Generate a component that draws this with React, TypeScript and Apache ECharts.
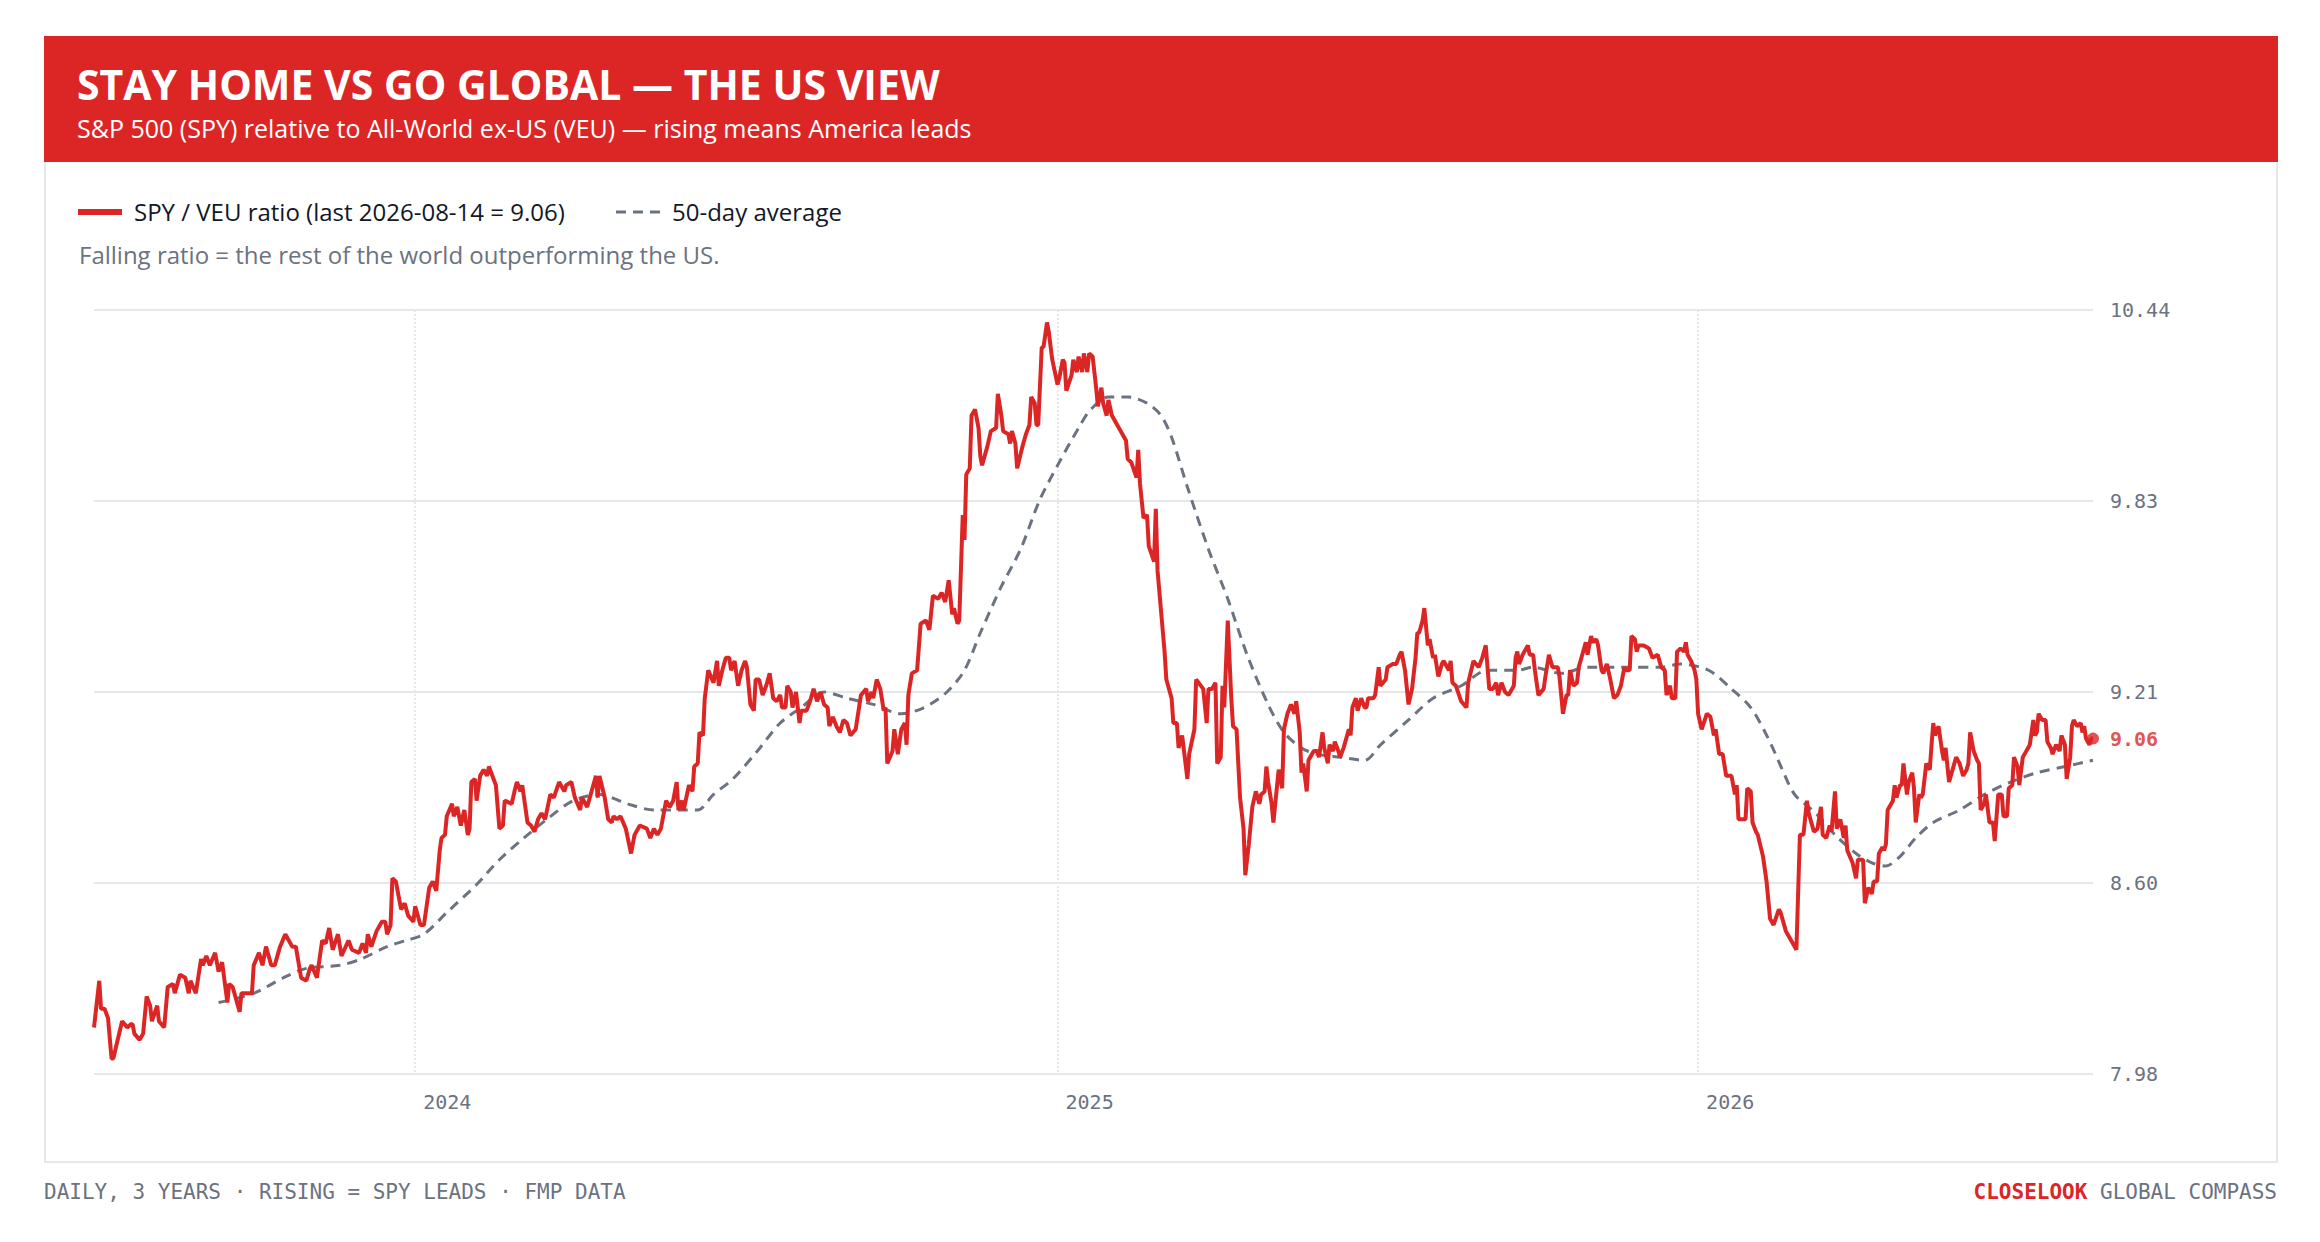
import React, { useEffect, useRef } from "react";
import * as echarts from "echarts";

// ---------- data ----------
const START_DATE = "2023-07-02"; // day 0 of the offsets below
const LAST_DATE = "2026-08-14";
const LAST_VALUE = 9.06;

const yTickValues = [7.98, 8.595, 9.21, 9.825, 10.44];
const yTickLabels = ["7.98", "8.60", "9.21", "9.83", "10.44"];
const yearTickDates = ["2024-01-01", "2025-01-01", "2026-01-01"];
const yearTickLabels = ["2024", "2025", "2026"];

// [days after START_DATE, SPY/VEU ratio]
const ratioPoints: [number, number][] = [
  [0,8.13],[3,8.28],[4,8.19],[6,8.19],[8,8.16],[10,8.03],[11,8.03],[16,8.15],[19,8.13],[21,8.14],[22,8.14],[23,8.11],[26,8.09],[28,8.11],[30,8.23],[32,8.20],[33,8.15],[36,8.20],[37,8.15],[40,8.13],
  [42,8.26],[45,8.27],[46,8.24],[49,8.30],[52,8.29],[54,8.24],[55,8.28],[58,8.24],[61,8.35],[62,8.33],[64,8.36],[66,8.33],[69,8.37],[71,8.31],[73,8.34],[76,8.21],[77,8.27],[79,8.26],[83,8.18],[84,8.24],
  [87,8.24],[90,8.24],[91,8.33],[94,8.37],[96,8.33],[98,8.39],[101,8.33],[103,8.33],[106,8.39],[109,8.43],[113,8.39],[115,8.39],[118,8.29],[121,8.28],[123,8.32],[124,8.33],[127,8.29],[130,8.41],[132,8.40],[134,8.45],
  [136,8.38],[139,8.43],[141,8.36],[145,8.41],[147,8.38],[151,8.37],[153,8.40],[155,8.37],[156,8.43],[158,8.39],[161,8.44],[164,8.47],[166,8.47],[167,8.43],[169,8.46],[170,8.61],[172,8.60],[173,8.57],[175,8.51],[177,8.53],
  [179,8.49],[182,8.47],[183,8.52],[186,8.46],[188,8.46],[191,8.58],[193,8.60],[195,8.57],[197,8.70],[198,8.74],[200,8.75],[201,8.81],[204,8.85],[205,8.81],[207,8.84],[209,8.78],[211,8.83],[213,8.75],[214,8.77],[215,8.92],
  [217,8.93],[218,8.86],[220,8.94],[222,8.96],[224,8.94],[225,8.97],[229,8.91],[231,8.77],[233,8.78],[234,8.86],[238,8.85],[240,8.90],[241,8.92],[243,8.89],[244,8.91],[247,8.79],[249,8.78],[251,8.76],[253,8.80],[255,8.82],
  [257,8.80],[260,8.88],[262,8.87],[265,8.92],[268,8.89],[269,8.91],[272,8.92],[274,8.87],[277,8.83],[278,8.87],[281,8.84],[283,8.88],[286,8.94],[287,8.87],[288,8.94],[291,8.87],[293,8.80],[295,8.79],[296,8.81],[298,8.80],
  [300,8.81],[303,8.77],[306,8.69],[308,8.75],[311,8.78],[315,8.77],[317,8.74],[319,8.77],[321,8.75],[323,8.77],[326,8.86],[328,8.84],[330,8.86],[332,8.92],[333,8.83],[335,8.86],[336,8.83],[339,8.91],[341,8.89],[342,8.97],
  [344,8.98],[345,9.08],[347,9.07],[348,9.19],[350,9.28],[353,9.24],[355,9.31],[356,9.23],[358,9.28],[360,9.32],[362,9.32],[363,9.28],[365,9.31],[367,9.23],[369,9.28],[371,9.31],[372,9.29],[374,9.17],[376,9.15],[377,9.25],
  [379,9.25],[381,9.20],[383,9.23],[385,9.27],[387,9.19],[389,9.18],[391,9.20],[392,9.16],[394,9.16],[395,9.23],[397,9.21],[398,9.16],[400,9.21],[402,9.11],[403,9.15],[406,9.15],[408,9.18],[410,9.22],[412,9.18],[414,9.21],
  [416,9.17],[418,9.16],[419,9.10],[421,9.13],[423,9.10],[425,9.08],[427,9.12],[429,9.11],[431,9.07],[434,9.09],[437,9.20],[440,9.22],[441,9.18],[443,9.21],[444,9.19],[446,9.25],[448,9.22],[450,9.15],[451,9.16],[452,8.98],
  [455,9.02],[456,9.09],[458,9.01],[460,9.09],[462,9.11],[463,9.04],[464,9.20],[466,9.27],[469,9.28],[471,9.43],[474,9.44],[476,9.41],[478,9.52],[481,9.51],[483,9.53],[485,9.50],[487,9.57],[489,9.46],[490,9.48],[492,9.43],
  [493,9.44],[495,9.78],[496,9.70],[497,9.91],[499,9.93],[500,10.10],[502,10.12],[504,10.06],[505,9.97],[506,9.94],[509,10.00],[511,10.05],[514,10.06],[515,10.17],[517,10.10],[518,10.05],[521,10.04],[522,10.01],[523,10.05],[525,10.01],
  [526,9.93],[529,10.00],[531,10.04],[533,10.07],[534,10.16],[536,10.14],[537,10.07],[538,10.07],[540,10.32],[541,10.32],[543,10.40],[544,10.37],[546,10.28],[549,10.20],[550,10.22],[552,10.28],[553,10.27],[554,10.18],[557,10.23],[558,10.28],
  [560,10.24],[561,10.29],[563,10.24],[564,10.30],[566,10.24],[567,10.30],[569,10.29],[571,10.19],[572,10.13],[574,10.19],[575,10.14],[577,10.10],[578,10.15],[580,10.10],[582,10.08],[584,10.06],[586,10.04],[588,10.02],[589,9.96],[591,9.95],
  [594,9.90],[595,9.99],[596,9.88],[598,9.77],[600,9.78],[601,9.68],[604,9.63],[605,9.80],[606,9.60],[610,9.34],[611,9.25],[614,9.19],[615,9.11],[617,9.11],[618,9.03],[620,9.07],[623,8.93],[624,9.01],[627,9.09],[628,9.25],
  [632,9.22],[634,9.11],[635,9.22],[637,9.22],[639,9.24],[640,8.98],[642,9.00],[643,9.23],[644,9.16],[646,9.44],[648,9.19],[649,9.10],[651,9.09],[653,8.87],[655,8.77],[656,8.62],[658,8.72],[660,8.84],[662,8.89],[664,8.85],
  [665,8.88],[667,8.89],[668,8.97],[669,8.92],[671,8.85],[672,8.79],[675,8.96],[677,8.90],[678,9.09],[680,9.14],[682,9.17],[684,9.14],[685,9.18],[686,9.13],[687,9.08],[688,8.95],[689,8.98],[691,8.89],[692,8.99],[695,9.02],
  [697,9.02],[698,9.00],[700,9.08],[701,9.03],[703,8.98],[704,9.04],[706,9.02],[707,9.05],[709,9.02],[710,9.00],[712,9.03],[715,9.09],[716,9.07],[717,9.16],[719,9.19],[720,9.15],[722,9.19],[724,9.16],[725,9.16],[726,9.19],
  [729,9.19],[730,9.20],[732,9.29],[733,9.23],[736,9.25],[737,9.29],[740,9.30],[742,9.30],[744,9.33],[745,9.34],[747,9.28],[749,9.17],[751,9.22],[753,9.32],[754,9.40],[755,9.40],[757,9.44],[758,9.48],[760,9.36],[761,9.38],
  [763,9.32],[764,9.33],[766,9.26],[768,9.30],[769,9.31],[772,9.28],[773,9.31],[774,9.24],[776,9.23],[779,9.18],[782,9.16],[783,9.24],[786,9.31],[789,9.29],[791,9.32],[793,9.36],[795,9.22],[797,9.22],[799,9.24],[800,9.20],
  [802,9.24],[804,9.21],[806,9.20],[809,9.23],[810,9.32],[811,9.34],[812,9.30],[814,9.33],[817,9.36],[818,9.33],[820,9.33],[821,9.28],[823,9.20],[826,9.22],[827,9.26],[829,9.33],[831,9.29],[834,9.29],[835,9.26],[837,9.14],
  [839,9.20],[840,9.20],[841,9.28],[843,9.23],[845,9.24],[846,9.29],[849,9.35],[850,9.37],[851,9.33],[853,9.39],[854,9.37],[856,9.38],[857,9.36],[859,9.28],[860,9.27],[862,9.30],[864,9.25],[866,9.19],[868,9.20],[870,9.23],
  [872,9.29],[873,9.28],[875,9.28],[876,9.39],[878,9.38],[879,9.34],[880,9.36],[883,9.36],[886,9.35],[888,9.32],[891,9.33],[893,9.29],[895,9.28],[896,9.20],[898,9.23],[899,9.19],[901,9.19],[902,9.34],[904,9.35],[906,9.34],
  [907,9.37],[908,9.33],[910,9.31],[912,9.28],[913,9.25],[914,9.14],[916,9.09],[919,9.14],[921,9.13],[923,9.07],[924,9.09],[926,9.01],[928,9.01],[930,8.94],[933,8.94],[935,8.88],[936,8.91],[937,8.80],[939,8.80],[941,8.80],
  [942,8.90],[944,8.89],[945,8.79],[947,8.76],[948,8.75],[951,8.68],[953,8.60],[955,8.48],[957,8.46],[960,8.51],[961,8.50],[964,8.44],[965,8.43],[968,8.40],[970,8.38],[972,8.75],[974,8.75],[976,8.86],[977,8.82],[980,8.76],
  [982,8.77],[984,8.84],[985,8.75],[987,8.74],[989,8.78],[990,8.76],[992,8.89],[993,8.77],[995,8.80],[997,8.74],[998,8.78],[999,8.70],[1002,8.66],[1004,8.61],[1005,8.67],[1008,8.67],[1009,8.53],[1011,8.58],[1013,8.56],[1014,8.60],
  [1016,8.60],[1017,8.69],[1019,8.71],[1020,8.70],[1021,8.72],[1022,8.83],[1025,8.86],[1026,8.91],[1027,8.87],[1029,8.91],[1030,8.91],[1031,8.98],[1033,8.88],[1034,8.92],[1036,8.95],[1037,8.90],[1038,8.79],[1040,8.88],[1041,8.87],[1042,8.88],
  [1044,8.98],[1046,8.96],[1047,9.04],[1048,9.11],[1049,9.07],[1051,9.10],[1053,9.02],[1054,8.99],[1055,9.03],[1057,8.92],[1059,8.96],[1061,9.00],[1063,8.98],[1065,8.94],[1067,8.96],[1068,8.98],[1069,9.08],[1071,9.02],[1073,8.99],[1074,8.98],
  [1075,8.83],[1077,8.85],[1078,8.88],[1080,8.79],[1082,8.79],[1083,8.73],[1085,8.88],[1087,8.88],[1088,8.81],[1090,8.81],[1091,8.90],[1093,8.91],[1094,9.00],[1096,8.97],[1097,8.91],[1099,9.00],[1100,9.01],[1102,9.03],[1103,9.04],[1105,9.12],
  [1106,9.07],[1107,9.08],[1108,9.14],[1110,9.12],[1112,9.12],[1113,9.05],[1115,9.03],[1116,9.01],[1118,9.04],[1120,9.02],[1121,9.07],[1123,9.04],[1124,8.93],[1126,9.00],[1127,9.10],[1128,9.12],[1130,9.10],[1132,9.11],[1133,9.08],[1134,9.10],
  [1135,9.06],[1137,9.04],[1138,9.06],[1139,9.06],
];

// [days after START_DATE, 50-day average]
const maPoints: [number, number][] = [
  [71,8.21],[91,8.24],[108,8.29],[121,8.32],[140,8.33],[152,8.35],[167,8.39],[178,8.41],[188,8.43],[201,8.50],[218,8.59],[231,8.67],[245,8.74],[258,8.80],[273,8.86],[288,8.88],[304,8.85],[319,8.83],[334,8.83],[344,8.83],
  [353,8.88],[364,8.93],[378,9.02],[391,9.11],[403,9.16],[416,9.21],[429,9.19],[444,9.17],[460,9.14],[473,9.16],[486,9.21],[496,9.28],[505,9.40],[517,9.55],[528,9.67],[539,9.83],[551,9.96],[562,10.07],[568,10.12],[578,10.16],
  [589,10.16],[600,10.14],[608,10.10],[614,10.03],[623,9.87],[635,9.67],[646,9.51],[657,9.33],[669,9.17],[678,9.08],[688,9.03],[697,9.01],[710,9.00],[724,8.99],[733,9.04],[749,9.12],[763,9.19],[779,9.23],[794,9.28],[811,9.28],
  [820,9.29],[836,9.27],[851,9.29],[866,9.29],[878,9.29],[893,9.29],[904,9.30],[920,9.28],[933,9.22],[944,9.16],[954,9.06],[962,8.96],[969,8.88],[981,8.82],[992,8.75],[1004,8.69],[1013,8.66],[1021,8.65],[1029,8.68],[1038,8.74],
  [1048,8.79],[1063,8.83],[1077,8.88],[1092,8.92],[1107,8.95],[1123,8.97],[1139,8.99],
];

// ---------- texts ----------
const TITLE = "STAY HOME VS GO GLOBAL \u2014 THE US VIEW";
const SUBTITLE = "S&P 500 (SPY) relative to All-World ex-US (VEU) \u2014 rising means America leads";
const LEGEND_RATIO = `SPY / VEU ratio (last ${LAST_DATE} = ${LAST_VALUE.toFixed(2)})`;
const LEGEND_MA = "50-day average";
const NOTE = "Falling ratio = the rest of the world outperforming the US.";
const FOOTER_LEFT = "DAILY, 3 YEARS \u00b7 RISING = SPY LEADS \u00b7 FMP DATA";
const BRAND_A = "CLOSELOOK";
const BRAND_B = "GLOBAL COMPASS";

// ---------- style ----------
const RED = "#dc2626";
const GRAY = "#6b7280";
const GRID = "#e5e7eb";
const INK = "#111827";
const SANS = '"Open Sans", "Noto Sans", sans-serif';
const MONO = '"DejaVu Sans Mono", "Liberation Mono", monospace';
const W = 2320;
const H = 1242;

const DAY = 86400000;
const isoToTs = (iso: string) => {
  const [y, m, d] = iso.split("-").map(Number);
  return Date.UTC(y, m - 1, d);
};
const START_TS = isoToTs(START_DATE);
const dayToTs = (d: number) => START_TS + d * DAY;
const yearTs = yearTickDates.map(isoToTs);

function nearestLabel(v: number, values: number[], labels: string[]) {
  let best = 0;
  for (let i = 1; i < values.length; i++) {
    if (Math.abs(values[i] - v) < Math.abs(values[best] - v)) best = i;
  }
  return labels[best];
}

export default function App() {
  const ref = useRef<HTMLDivElement>(null);

  useEffect(() => {
    if (!ref.current) return;
    const chart = echarts.init(ref.current, undefined, { renderer: "svg", width: W, height: H });

    const option: any = {
      animation: false,
      backgroundColor: "#ffffff",
      grid: { left: 94, right: W - 2093, top: 310, bottom: H - 1074, containLabel: false },
      xAxis: {
        type: "value",
        min: START_TS,
        max: isoToTs(LAST_DATE),
        axisLine: { show: false },
        axisTick: { show: false, customValues: yearTs },
        axisLabel: {
          customValues: yearTs,
          formatter: (v: number) => nearestLabel(v, yearTs, yearTickLabels),
          align: "left",
          padding: [0, 0, 0, 8],
          margin: 18,
          fontFamily: MONO,
          fontSize: 20,
          color: GRAY,
        },
        splitLine: { show: true, lineStyle: { color: GRID, type: "dotted", width: 2 } },
      },
      yAxis: {
        type: "value",
        position: "right",
        min: yTickValues[0],
        max: yTickValues[yTickValues.length - 1],
        axisLine: { show: false },
        axisTick: { show: false, customValues: yTickValues },
        axisLabel: {
          customValues: yTickValues,
          formatter: (v: number) => nearestLabel(v, yTickValues, yTickLabels),
          margin: 17,
          fontFamily: MONO,
          fontSize: 20,
          color: GRAY,
        },
        splitLine: { show: true, lineStyle: { color: GRID, width: 2 } },
      },
      series: [
        {
          name: LEGEND_MA,
          type: "line",
          data: maPoints.map(([d, v]) => [dayToTs(d), v]),
          showSymbol: false,
          smooth: 0.3,
          lineStyle: { color: GRAY, width: 3, type: [10, 7] },
          z: 2,
          silent: true,
        },
        {
          name: "SPY / VEU ratio",
          type: "line",
          data: ratioPoints.map(([d, v]) => [dayToTs(d), v]),
          showSymbol: false,
          lineStyle: { color: RED, width: 4 },
          z: 3,
          silent: true,
        },
        {
          type: "scatter",
          data: [[isoToTs(LAST_DATE), LAST_VALUE]],
          symbolSize: 12,
          itemStyle: { color: RED },
          z: 4,
          silent: true,
          label: {
            show: true,
            position: "right",
            distance: 11,
            formatter: () => LAST_VALUE.toFixed(2),
            color: RED,
            fontWeight: "bold",
            fontFamily: MONO,
            fontSize: 20,
          },
        },
      ],
      graphic: [
        { type: "rect", silent: true, shape: { x: 45, y: 37, width: 2232, height: 1125 }, style: { fill: "none", stroke: GRID, lineWidth: 2 } },
        { type: "rect", silent: true, shape: { x: 44, y: 36, width: 2234, height: 126 }, style: { fill: RED } },
        { type: "text", silent: true, x: 77, y: 84, style: { text: TITLE, fill: "#ffffff", font: `bold 41px ${SANS}`, textVerticalAlign: "middle" } },
        { type: "text", silent: true, x: 77, y: 128, style: { text: SUBTITLE, fill: "#ffffff", font: `25px ${SANS}`, textVerticalAlign: "middle" } },
        { type: "line", silent: true, shape: { x1: 78, y1: 212, x2: 122, y2: 212 }, style: { stroke: RED, lineWidth: 6 } },
        { type: "text", silent: true, x: 134, y: 211, style: { text: LEGEND_RATIO, fill: INK, font: `24px ${SANS}`, textVerticalAlign: "middle" } },
        { type: "line", silent: true, shape: { x1: 616, y1: 212, x2: 660, y2: 212 }, style: { stroke: GRAY, lineWidth: 3, lineDash: [10, 7] } },
        { type: "text", silent: true, x: 672, y: 211, style: { text: LEGEND_MA, fill: INK, font: `24px ${SANS}`, textVerticalAlign: "middle" } },
        { type: "text", silent: true, x: 79, y: 254, style: { text: NOTE, fill: GRAY, font: `24px ${SANS}`, textVerticalAlign: "middle" } },
        { type: "text", silent: true, x: 44, y: 1192, style: { text: FOOTER_LEFT, fill: GRAY, font: `21px ${MONO}`, textVerticalAlign: "middle" } },
        {
          type: "text",
          silent: true,
          x: 2277,
          y: 1192,
          style: {
            text: `{a|${BRAND_A}} {b|${BRAND_B}}`,
            textAlign: "right",
            textVerticalAlign: "middle",
            font: `21px ${MONO}`,
            fill: GRAY,
            rich: {
              a: { fill: RED, font: `bold 21px ${MONO}` },
              b: { fill: GRAY, font: `21px ${MONO}` },
            },
          },
        },
      ],
    };

    chart.setOption(option);
    return () => chart.dispose();
  }, []);

  return (
    <div
      ref={ref}
      style={{ position: "fixed", left: 0, top: 0, width: W, height: H, background: "#ffffff" }}
    />
  );
}
